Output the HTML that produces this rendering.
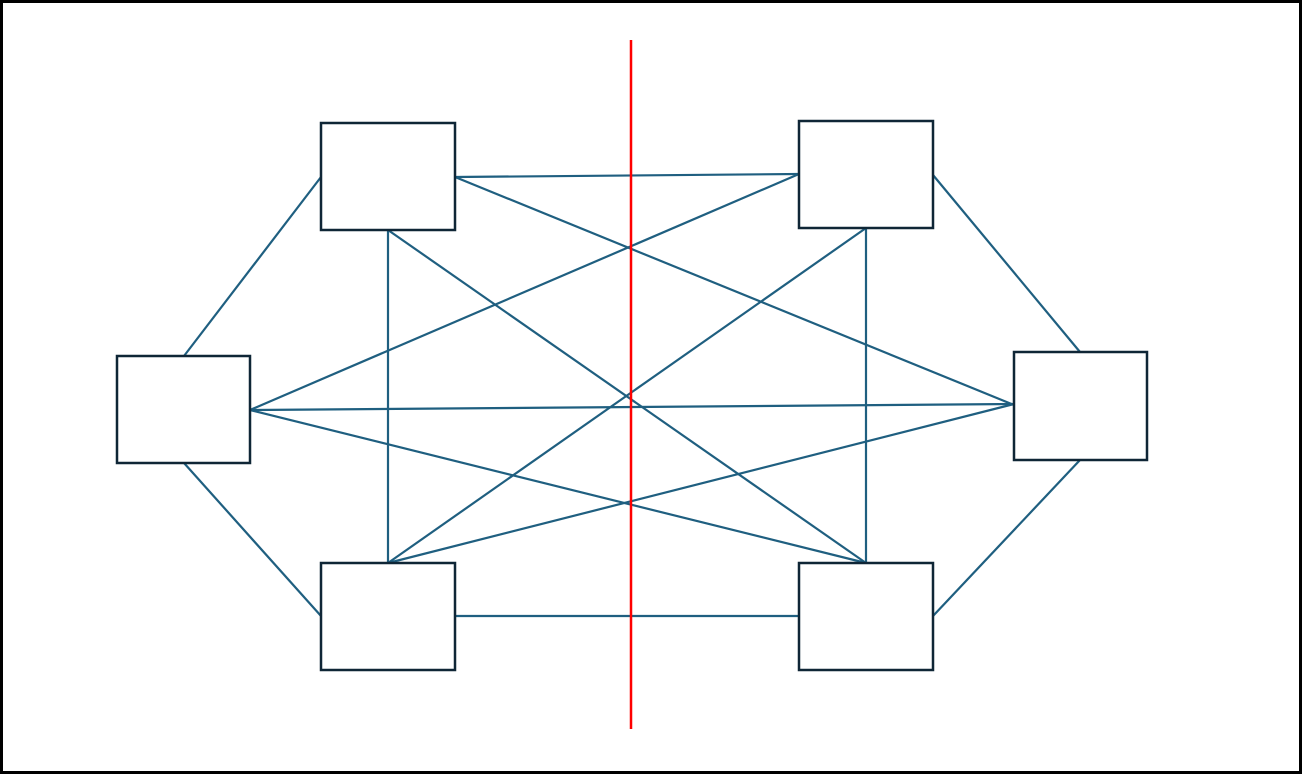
<!DOCTYPE html>
<html><head><meta charset="utf-8"><style>
html,body{margin:0;padding:0;background:#fff;}
svg{display:block;}
</style></head><body>
<svg width="1302" height="774" viewBox="0 0 1302 774" xmlns="http://www.w3.org/2000/svg">
<rect x="1.5" y="1.5" width="1299" height="771" fill="#fff" stroke="#000" stroke-width="3"/>
<g stroke="#1f5f80" stroke-width="2.2" fill="none">
<line x1="184" y1="356" x2="321" y2="177"/>
<line x1="184" y1="463" x2="321" y2="616"/>
<line x1="933" y1="175" x2="1080" y2="352"/>
<line x1="1080" y1="460" x2="933" y2="616"/>
<line x1="455" y1="177" x2="799" y2="174"/>
<line x1="455" y1="616" x2="799" y2="616"/>
<line x1="388" y1="230" x2="388" y2="563"/>
<line x1="866" y1="228" x2="866" y2="563"/>
<line x1="388" y1="230" x2="866" y2="563"/>
<line x1="866" y1="228" x2="388" y2="563"/>
<line x1="455" y1="177" x2="1014" y2="405"/>
<line x1="799" y1="174" x2="250" y2="410"/>
<line x1="250" y1="410" x2="1014" y2="404"/>
<line x1="250" y1="410" x2="866" y2="563"/>
<line x1="1014" y1="404" x2="388" y2="563"/>
</g>
<line x1="631" y1="40" x2="631" y2="729" stroke="#ff0000" stroke-width="2.5"/>
<g stroke="#0f2636" stroke-width="2.5" fill="#fff">
<rect x="321" y="123" width="134" height="107"/>
<rect x="799" y="121" width="134" height="107"/>
<rect x="117" y="356" width="133" height="107"/>
<rect x="1014" y="352" width="133" height="108"/>
<rect x="321" y="563" width="134" height="107"/>
<rect x="799" y="563" width="134" height="107"/>
</g>
</svg>
</body></html>
